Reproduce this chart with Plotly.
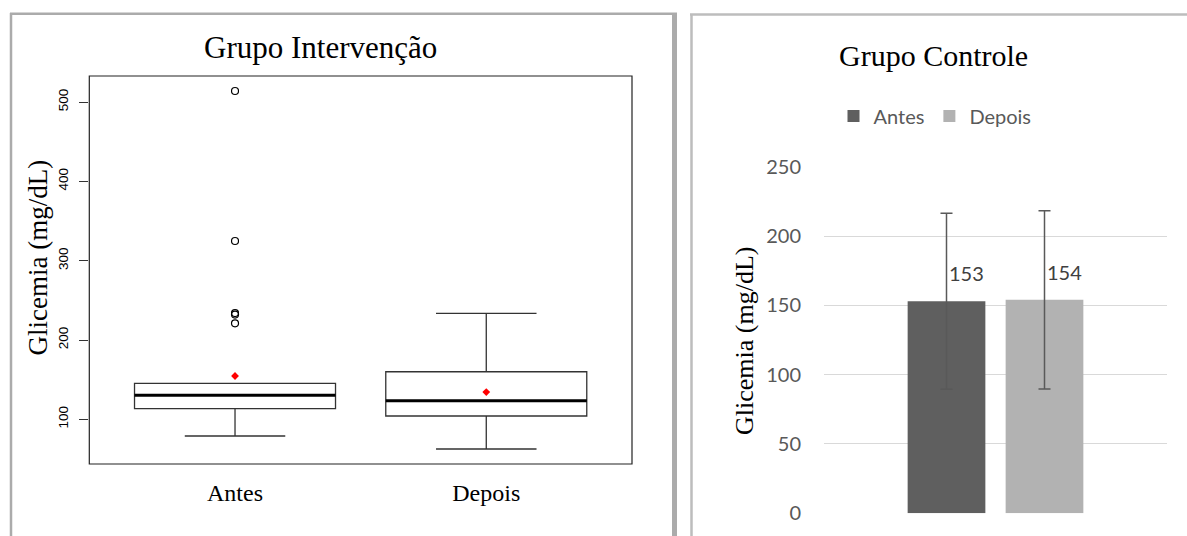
import plotly.graph_objects as go

W, H = 1187, 536

# ---- Grupo Intervenção (boxplot summary) ----
groups = ["Antes", "Depois"]
group_pos = [1, 2]
q1 = [113.4, 104.2]
median = [130.3, 123.4]
q3 = [145.4, 160.0]
lower_whisker = [79.0, 62.6]
upper_whisker = [145.4, 233.6]
means = [154.6, 134.4]
outliers_antes = [513.9, 324.8, 234.0, 232.0, 221.0]
outliers_depois = []

# ---- Grupo Controle (bar with SD) ----
ctrl_series = ["Antes", "Depois"]
ctrl_means = [153, 154]
ctrl_sd = [63.5, 64.3]
ctrl_colors = ["#5f5f5f", "#b2b2b2"]

BOX_W = 0.8
BARGAP = 0.4286
BARGROUPGAP = 0.207


def px(x):
    return x / W


def py(y):
    return 1 - y / H


fig = go.Figure()

# boxes
for i, g in enumerate(groups):
    fig.add_trace(go.Box(
        x=[group_pos[i]], q1=[q1[i]], median=[median[i]], q3=[q3[i]],
        lowerfence=[lower_whisker[i]], upperfence=[upper_whisker[i]],
        width=BOX_W, whiskerwidth=0.5, boxpoints=False,
        line=dict(color="#333333", width=1.3), fillcolor="white",
        xaxis="x", yaxis="y", showlegend=False, hoverinfo="skip"))
    # thick median bar
    fig.add_trace(go.Scatter(
        x=[group_pos[i] - BOX_W / 2, group_pos[i] + BOX_W / 2],
        y=[median[i], median[i]], mode="lines",
        line=dict(color="black", width=3), xaxis="x", yaxis="y",
        showlegend=False, hoverinfo="skip"))

# outliers
out_x = [group_pos[0]] * len(outliers_antes) + [group_pos[1]] * len(outliers_depois)
out_y = outliers_antes + outliers_depois
fig.add_trace(go.Scatter(
    x=out_x, y=out_y, mode="markers",
    marker=dict(symbol="circle-open", size=7, color="black", line=dict(width=1.2)),
    xaxis="x", yaxis="y", showlegend=False, hoverinfo="skip"))

# means
fig.add_trace(go.Scatter(
    x=group_pos, y=means, mode="markers",
    marker=dict(symbol="diamond", size=6, color="red"),
    xaxis="x", yaxis="y", showlegend=False, hoverinfo="skip"))

# control bars
for i, s in enumerate(ctrl_series):
    fig.add_trace(go.Bar(
        x=[0], y=[ctrl_means[i]], name=s, marker=dict(color=ctrl_colors[i], line=dict(width=0)),
        error_y=dict(type="data", array=[ctrl_sd[i]], color="#595959", thickness=1.5, width=6),
        xaxis="x2", yaxis="y2", offsetgroup=str(i), hoverinfo="skip"))

# value labels on control bars
slot = (1 - BARGAP) / len(ctrl_series)
for i, v in enumerate(ctrl_means):
    cx = -(1 - BARGAP) / 2 + slot * (i + 0.5)
    fig.add_annotation(
        x=cx, y=v, xref="x2", yref="y2", text=str(v), showarrow=False,
        xanchor="left", yanchor="middle", yshift=28,
        font=dict(family="Lato", size=20, color="#404040"))

serif = "Liberation Serif, Times New Roman, serif"


def label(x, y, text, size, angle=0):
    fig.add_annotation(x=px(x), y=py(y), xref="paper", yref="paper", text=text,
                       showarrow=False, textangle=angle, xanchor="center", yanchor="middle",
                       font=dict(family=serif, size=size, color="black"))


# titles and axis titles
label(320, 47, "Grupo Intervenção", 31)
label(933, 55, "Grupo Controle", 30)
label(37.5, 257, "Glicemia (mg/dL)", 27, -90)
label(744, 341, "Glicemia (mg/dL)", 26, -90)

shapes = []
# box plot frame
shapes.append(dict(type="rect", xref="x domain", yref="y domain", x0=0, x1=1, y0=0, y1=1,
                   line=dict(color="#222222", width=1.2)))
# panel borders
shapes.append(dict(type="line", xref="paper", yref="paper", x0=px(11), x1=px(11), y0=py(13), y1=0,
                   line=dict(color="#ababab", width=2.5)))
shapes.append(dict(type="line", xref="paper", yref="paper", x0=px(10), x1=px(677), y0=py(13.8), y1=py(13.8),
                   line=dict(color="#ababab", width=2.5)))
shapes.append(dict(type="line", xref="paper", yref="paper", x0=px(674.5), x1=px(674.5), y0=py(13), y1=0,
                   line=dict(color="#ababab", width=5)))
shapes.append(dict(type="line", xref="paper", yref="paper", x0=px(691.5), x1=px(691.5), y0=py(14), y1=0,
                   line=dict(color="#bdbdbd", width=2.5)))
shapes.append(dict(type="line", xref="paper", yref="paper", x0=px(690), x1=1, y0=py(14.5), y1=py(14.5),
                   line=dict(color="#bdbdbd", width=2.5)))

fig.update_layout(
    width=W, height=H, autosize=False,
    margin=dict(l=0, r=0, t=0, b=0, pad=0, autoexpand=False),
    paper_bgcolor="white", plot_bgcolor="white",
    barmode="group", bargap=BARGAP, bargroupgap=BARGROUPGAP,
    shapes=shapes,
    xaxis=dict(domain=[px(89.3), px(632)], range=[0.42, 2.58], tickvals=group_pos, ticktext=groups,
               showgrid=False, zeroline=False, showline=False, ticks="", automargin=False,
               ticklabelstandoff=12, tickfont=dict(family=serif, size=24, color="black")),
    yaxis=dict(domain=[py(464), py(76)], range=[43.7, 532.8], tickvals=[100, 200, 300, 400, 500],
               showgrid=False, zeroline=False, showline=False, ticks="outside", ticklen=9,
               tickcolor="#333333", tickangle=-90, ticklabelstandoff=6, automargin=False,
               tickfont=dict(family="Liberation Sans, Arial, sans-serif", size=13.5, color="black")),
    xaxis2=dict(domain=[px(824), px(1167)], range=[-0.5, 0.5], showticklabels=False,
                showgrid=False, zeroline=False, showline=False, anchor="y2", automargin=False),
    yaxis2=dict(domain=[py(513.3), py(166.7)], range=[0, 250], dtick=50, anchor="x2",
                showgrid=True, gridcolor="#d9d9d9", gridwidth=1.2, zeroline=False, showline=False,
                ticks="", ticklabelstandoff=22, automargin=False,
                tickfont=dict(family="Lato", size=20, color="#595959")),
    legend=dict(orientation="h", x=px(935), y=py(116), xanchor="center", yanchor="middle",
                font=dict(family="Lato", size=20, color="#595959"), bgcolor="rgba(0,0,0,0)",
                itemclick=False),
)

fig.write_html("out.html")
